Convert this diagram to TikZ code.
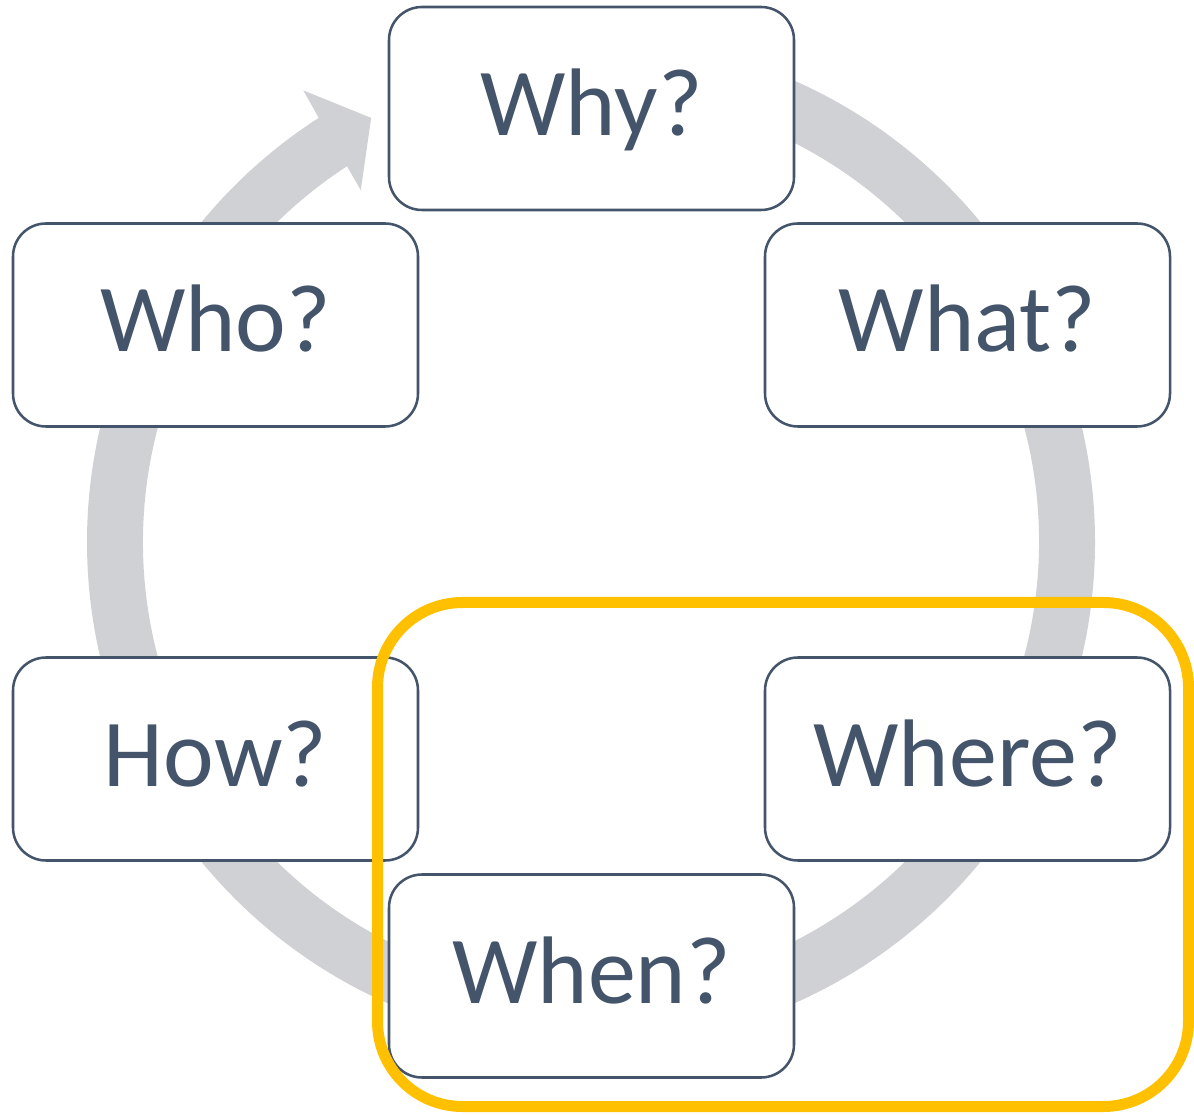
\documentclass[tikz,border=0pt]{standalone}
\usepackage{fontspec}
\setmainfont{Carlito}
\definecolor{slate}{HTML}{44546A}
\definecolor{ringgray}{HTML}{D0D1D5}
\definecolor{gold}{HTML}{FFC000}
\begin{document}
\begin{tikzpicture}[x=0.75pt,y=0.75pt,
  qbox/.style={draw=slate, line width=1.9pt, fill=white, rounded corners=24.75pt,
    minimum width=303.75pt, minimum height=152.25pt, inner sep=0pt,
    text=slate, font=\fontsize{72}{86}\selectfont, text height=52pt, text depth=11.5pt},
  focusbox/.style={draw=gold, line width=8.25pt, rounded corners=63.75pt,
    minimum width=608.25pt, minimum height=378pt, inner sep=0pt}]
\useasboundingbox (0,0) rectangle (1194,1114);
% ring arrow
\fill[ringgray, shift={(591,572)}] (90:504) arc[start angle=90, end angle=-237.3, radius=504]
  -- (-237.5:535.5) -- (-242.6:477.7) -- (-236.8:420.5) -- (-237:448)
  arc[start angle=-237, end angle=90, radius=448] -- cycle;
% boxes
\node[qbox] (why)   at (591.5,1005.5) {Why?};
\node[qbox] (who)   at (215.5,789) {Who?};
\node[qbox] (what)  at (967.5,789) {What?};
\node[qbox] (how)   at (215.5,355) {How?};
\node[qbox] (where) at (967.5,355) {Where?};
\node[qbox] (when)  at (591.5,138) {When?};
% highlight
\node[focusbox] (focus) at (783,259.5) {};
\end{tikzpicture}
\end{document}
